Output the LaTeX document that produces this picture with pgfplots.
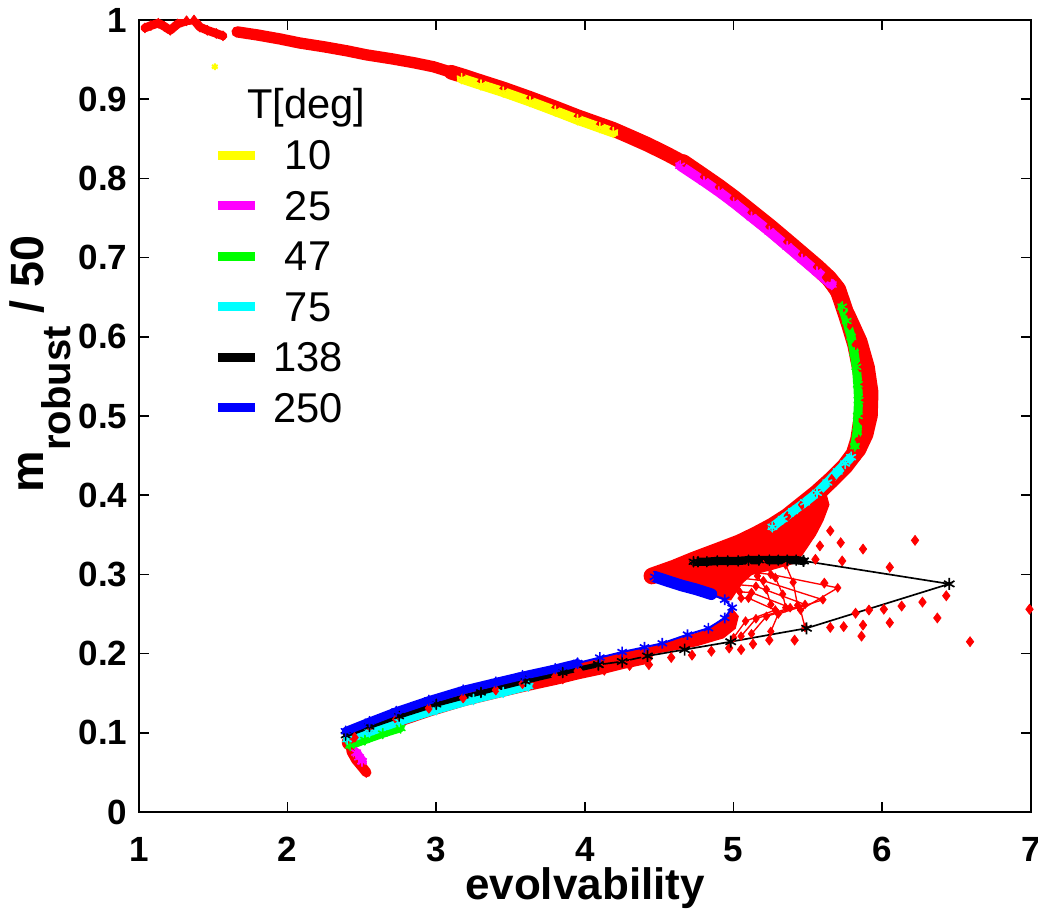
\documentclass[border=0pt]{standalone}
\usepackage{fontspec}
\setmainfont{Liberation Sans}
\usepackage{pgfplots}
\pgfplotsset{compat=1.18}

% pure RGB colours, as in the original plotting program
\definecolor{pred}{rgb}{1,0,0}
\definecolor{pyel}{rgb}{1,1,0}
\definecolor{pmag}{rgb}{1,0,1}
\definecolor{pgrn}{rgb}{0,1,0}
\definecolor{pcyn}{rgb}{0,1,1}
\definecolor{pblu}{rgb}{0,0,1}

\pgfplotsset{
  redband/.style={pred, line join=round, line cap=round, mark=diamond*, mark size=1.5pt, mark options={solid, line width=0.2pt}},
  redfan/.style={pred, line width=0.4pt, mark=diamond*, mark size=1.3pt, mark options={solid, line width=0.2pt}},
  tband/.style={#1, line join=round, line cap=round, mark=asterisk, mark size=1.5pt, mark options={solid, line width=0.5pt}},
  leg/.style={legend image code/.code={\draw[#1, line width=2.7pt] (0pt,0.8pt) -- (11pt,0.8pt);}},
}

\begin{document}
\begin{tikzpicture}
\begin{axis}[
  name=ax,
  scale only axis,
  width=267.6pt, height=237.6pt,
  xmin=1, xmax=7, ymin=0, ymax=1,
  xtick={1,2,3,4,5,6,7},
  ytick={0,0.1,0.2,0.3,0.4,0.5,0.6,0.7,0.8,0.9,1},
  tick align=inside,
  major tick length=3pt,
  axis line style={line width=0.5pt},
  tick style={line width=0.5pt, black},
  /pgf/number format/assume math mode=true,
  ticklabel style={font=\fontsize{10.5}{12}\selectfont\bfseries},
  xticklabel style={inner sep=0pt, yshift=-7.3pt},
  xlabel={evolvability},
  xlabel style={font=\fontsize{13.2}{15}\selectfont\bfseries, inner sep=0pt, at={(axis description cs:0.5,-0.110)}, anchor=base},
  ylabel={m\raisebox{-8pt}{\fontsize{12}{12}\selectfont robust} / 50},
  ylabel style={font=\fontsize{14}{16}\selectfont\bfseries, at={(axis description cs:-0.111,0.566)}, anchor=center},
  legend cell align=left,
  legend style={draw=none, fill=none, at={(axis description cs:0.083,0.914)}, anchor=north west,
    font=\fontsize{12.5}{14}\selectfont, row sep=5pt, column sep=4.2pt, inner sep=0pt, nodes={inner sep=0pt}},
]

% legend entries (temperature in degrees)
\addlegendimage{empty legend}
\addlegendentry{\hspace*{-7.8pt}T[deg]}
\addlegendimage{leg=pyel}
\addlegendentry{\ 10}
\addlegendimage{leg=pmag}
\addlegendentry{\ 25}
\addlegendimage{leg=pgrn}
\addlegendentry{\ 47}
\addlegendimage{leg=pcyn}
\addlegendentry{\ 75}
\addlegendimage{leg=black}
\addlegendentry{138}
\addlegendimage{leg=pblu}
\addlegendentry{250}

% ---- all runs (red) ----
\addplot[redband, line width=2.6pt] coordinates {
(1.04,0.990)(1.08,0.993)(1.13,0.996)(1.17,0.992)(1.21,0.987)(1.26,0.995)(1.32,0.999)
(1.37,1.000)(1.41,0.991)(1.46,0.987)(1.52,0.983)(1.565,0.980)};
\addplot[redband, line width=3.4pt] coordinates {
(1.66,0.985)(1.80,0.981)(1.95,0.976)(2.08,0.971)(2.25,0.966)(2.40,0.961)(2.53,0.956)
(2.70,0.951)(2.85,0.946)(2.98,0.941)(3.10,0.934)};
\addplot[redband, line width=4.4pt] coordinates {
(3.10,0.934)(3.17,0.930)(3.30,0.922)(3.45,0.913)(3.63,0.901)(3.80,0.889)(3.95,0.878)
(4.10,0.868)(4.19,0.862)(4.30,0.853)(4.42,0.843)(4.55,0.831)(4.66,0.820)};
\addplot[redband, line width=5pt] coordinates {
(4.66,0.820)(4.80,0.802)(4.90,0.789)(5.00,0.775)(5.12,0.757)(5.24,0.739)(5.36,0.720)
(5.46,0.704)(5.56,0.688)(5.64,0.674)(5.70,0.660)(5.74,0.638)(5.78,0.615)(5.82,0.590)
(5.85,0.562)(5.87,0.540)(5.875,0.520)(5.86,0.495)(5.84,0.470)(5.81,0.452)(5.75,0.437)
(5.66,0.420)(5.56,0.403)(5.46,0.388)(5.36,0.373)(5.26,0.361)(5.15,0.350)(5.04,0.340)
(4.90,0.330)(4.73,0.318)(4.60,0.308)(4.45,0.298)};
\addplot[redband, line width=3.5pt] coordinates {
(5.62,0.675)(5.70,0.653)(5.78,0.628)(5.86,0.595)(5.91,0.562)(5.935,0.530)(5.93,0.500)
(5.90,0.476)(5.85,0.456)(5.76,0.436)(5.66,0.416)(5.58,0.401)};
\addplot[pred, fill=pred, draw=pred, line width=0.4pt] coordinates {
(4.44,0.299)(4.60,0.310)(4.73,0.320)(4.90,0.332)(5.04,0.342)(5.15,0.352)(5.26,0.363)
(5.40,0.378)(5.52,0.392)(5.62,0.402)(5.64,0.388)(5.60,0.368)(5.55,0.350)(5.50,0.336)
(5.46,0.325)(5.40,0.314)(5.25,0.306)(5.12,0.300)(5.05,0.288)(4.98,0.268)(4.94,0.268)
(4.85,0.274)(4.75,0.280)(4.60,0.288)(4.47,0.294)} -- cycle;
\addplot[pred, fill=pred, draw=pred, line width=0.4pt] coordinates {
(4.35,0.203)(4.52,0.212)(4.69,0.222)(4.83,0.230)(4.93,0.243)(4.99,0.256)(5.03,0.247)
(5.01,0.232)(4.93,0.220)(4.75,0.210)(4.55,0.203)(4.35,0.197)} -- cycle;
\addplot[redband, line width=5pt] coordinates {
(4.40,0.197)(4.25,0.191)(4.10,0.184)(3.95,0.178)(3.80,0.171)(3.58,0.162)(3.40,0.154)
(3.18,0.144)(2.95,0.131)(2.73,0.117)(2.55,0.104)(2.45,0.094)(2.42,0.088)};
\addplot[redband, line width=3pt] coordinates {
(2.42,0.088)(2.43,0.076)(2.46,0.066)(2.50,0.057)(2.53,0.050)};
% fan of short runs near the lower turn
\addplot[redfan] coordinates {(5.00,0.305)(5.25,0.300)(5.70,0.283)(5.45,0.255)(5.48,0.233)};
\addplot[redfan] coordinates {(5.02,0.296)(5.20,0.292)(5.60,0.268)(5.30,0.250)(5.25,0.228)};
\addplot[redfan] coordinates {(5.03,0.287)(5.15,0.285)(5.48,0.262)(5.22,0.247)(5.12,0.225)};
\addplot[redfan] coordinates {(5.04,0.278)(5.12,0.277)(5.38,0.258)(5.15,0.244)(5.05,0.222)};
\addplot[redfan] coordinates {(5.05,0.270)(5.10,0.270)(5.28,0.255)(5.08,0.241)(5.00,0.220)};
\addplot[redfan] coordinates {(5.35,0.312)(5.40,0.290)(5.43,0.261)};
\addplot[redfan] coordinates {(5.20,0.312)(5.28,0.296)(5.33,0.275)(5.35,0.258)};
\addplot[redfan] coordinates {(5.10,0.310)(5.16,0.298)(5.22,0.281)(5.25,0.262)};
% isolated points
\addplot[pred, only marks, mark=diamond*, mark size=1.5pt, mark options={line width=0.2pt}] coordinates {
(6.22,0.343)(5.87,0.332)(5.73,0.317)(6.05,0.309)(6.99,0.256)(6.59,0.215)(6.37,0.245)
(6.43,0.273)(6.27,0.265)(6.13,0.260)(6.01,0.256)(5.91,0.255)(5.82,0.251)(6.05,0.239)
(5.87,0.236)(5.74,0.234)(5.65,0.233)(5.86,0.222)(5.58,0.336)(5.55,0.319)(5.61,0.289)
(4.97,0.207)(5.05,0.205)(5.13,0.212)(5.24,0.217)(5.41,0.217)(4.85,0.203)(4.13,0.179)
(4.30,0.185)(4.43,0.186)(3.97,0.175)(3.85,0.168)(4.58,0.195)(4.72,0.198)(5.72,0.340)
(5.65,0.355)};

% ---- T = 10 ----
\addplot[tband=pyel, line width=3pt] coordinates {
(3.17,0.926)(3.30,0.918)(3.45,0.909)(3.63,0.897)(3.80,0.885)(3.95,0.874)(4.10,0.864)(4.19,0.858)};
\addplot[pyel, only marks, mark=asterisk, mark size=1pt, mark options={line width=0.6pt}] coordinates {(1.51,0.941)};

% ---- T = 25 ----
\addplot[tband=pmag, line width=3pt] coordinates {
(4.64,0.816)(4.80,0.796)(4.90,0.783)(5.00,0.769)(5.12,0.751)(5.24,0.733)(5.36,0.714)
(5.46,0.698)(5.56,0.682)(5.66,0.666)};
\addplot[tband=pmag, line width=3pt] coordinates {(2.46,0.075)(2.48,0.069)(2.50,0.064)};

% ---- T = 47 ----
\addplot[tband=pgrn, line width=2.7pt] coordinates {
(5.73,0.638)(5.76,0.620)(5.79,0.600)(5.81,0.580)(5.825,0.562)(5.835,0.540)(5.84,0.520)
(5.835,0.500)(5.83,0.480)(5.815,0.462)};
\addplot[tband=pgrn, line width=2.5pt] coordinates {(2.42,0.084)(2.52,0.091)(2.64,0.099)(2.76,0.106)};

% ---- T = 75 ----
\addplot[tband=pcyn, line width=2.7pt] coordinates {
(5.79,0.448)(5.75,0.440)(5.70,0.430)(5.63,0.416)(5.56,0.403)(5.48,0.391)(5.40,0.380)
(5.33,0.370)(5.26,0.360)};
\addplot[tband=pcyn, line width=2.5pt] coordinates {
(2.40,0.092)(2.55,0.101)(2.75,0.114)(3.00,0.129)(3.25,0.142)(3.45,0.151)(3.62,0.159)};

% ---- T = 138 ----
\addplot[tband=black, line width=1.5pt] coordinates {
(2.39,0.097)(2.55,0.108)(2.75,0.121)(3.00,0.136)(3.30,0.151)(3.60,0.165)(3.85,0.176)(4.09,0.186)};
\addplot[black, line width=0.5pt, mark=asterisk, mark size=1.8pt, mark options={line width=0.5pt}] coordinates {
(4.09,0.186)(4.25,0.190)(4.42,0.197)(4.67,0.205)(4.98,0.215)(5.49,0.232)(6.45,0.288)(5.47,0.317)};
\addplot[tband=black, line width=2.5pt] coordinates {
(5.47,0.317)(5.42,0.318)(5.36,0.318)(5.30,0.318)(5.24,0.318)(5.17,0.318)(5.10,0.318)(5.03,0.317)
(4.96,0.317)(4.89,0.317)(4.82,0.316)(4.76,0.316)(4.73,0.316)};

% ---- T = 250 ----
\addplot[tband=pblu, line width=3.5pt] coordinates {
(4.47,0.297)(4.55,0.292)(4.65,0.286)(4.75,0.281)(4.85,0.275)};
\addplot[pblu, line width=0.6pt, mark=asterisk, mark size=1.6pt, mark options={line width=0.5pt}] coordinates {
(4.85,0.275)(4.94,0.268)(4.99,0.258)(4.94,0.245)(4.83,0.232)(4.69,0.224)(4.52,0.213)
(4.40,0.208)(4.25,0.202)(4.10,0.195)(3.95,0.188)};
\addplot[tband=pblu, line width=2.5pt] coordinates {
(3.95,0.188)(3.80,0.181)(3.58,0.172)(3.40,0.164)(3.18,0.154)(2.95,0.141)(2.73,0.127)
(2.55,0.114)(2.39,0.102)};
\end{axis}
\pgfresetboundingbox
\path ([shift={(-41.7pt,-29.7pt)}]ax.south west) rectangle ([shift={(2.1pt,6pt)}]ax.north east);
\end{tikzpicture}
\end{document}
